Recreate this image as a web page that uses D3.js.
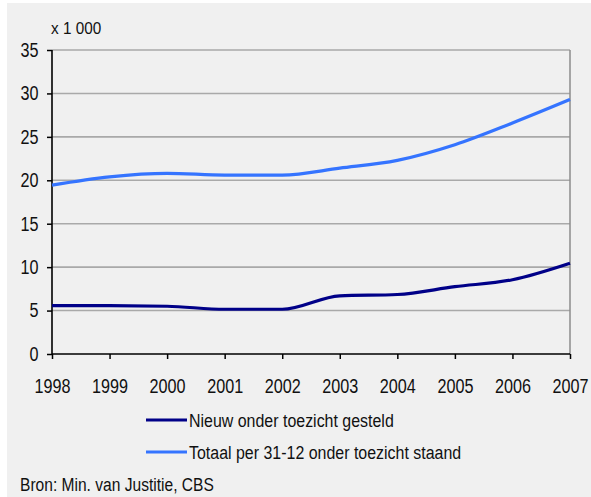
<!DOCTYPE html>
<html>
<head>
<meta charset="utf-8">
<script src="https://cdn.jsdelivr.net/npm/d3@7"></script>
<style>
  html, body { margin: 0; padding: 0; background: #ffffff; }
  svg { display: block; }
  text { font-family: "Liberation Sans", Arial, sans-serif; fill: #111; }
</style>
</head>
<body>
<svg id="chart" width="591" height="497"></svg>
<script>
const years = [1998, 1999, 2000, 2001, 2002, 2003, 2004, 2005, 2006, 2007];
const nieuw = [5.56, 5.56, 5.5, 5.15, 5.15, 6.7, 6.85, 7.75, 8.55, 10.45];
const totaal = [19.45, 20.4, 20.8, 20.6, 20.6, 21.4, 22.3, 24.1, 26.6, 29.3];
const yTicks = [0, 5, 10, 15, 20, 25, 30, 35];
const seriesNames = ["Nieuw onder toezicht gesteld", "Totaal per 31-12 onder toezicht staand"];
const seriesColors = ["#000088", "#3574ff"];
const unitLabel = "x 1 000";
const sourceText = "Bron: Min. van Justitie, CBS";

const SX = 0.81; // horizontal condensing of the narrow font

const svg = d3.select("#chart");
svg.append("rect").attr("x", 7).attr("y", 3).attr("width", 584).attr("height", 494).attr("fill", "#f0f0f0");

const x = d3.scaleLinear().domain([1998, 2007]).range([52, 570]);
const y = d3.scaleLinear().domain([0, 35]).range([354, 50]);

// gridlines
svg.append("g").selectAll("line").data(yTicks.filter(d => d > 0)).join("line")
  .attr("x1", x(1998)).attr("x2", x(2007))
  .attr("y1", d => y(d)).attr("y2", d => y(d))
  .attr("stroke", "#a9a9a9").attr("stroke-width", 1.6);

// right border
svg.append("line").attr("x1", x(2007)).attr("x2", x(2007)).attr("y1", y(35)).attr("y2", y(0))
  .attr("stroke", "#8c8c8c").attr("stroke-width", 1.5);

// y axis
const yAxis = svg.append("g").attr("transform", `translate(${x(1998)},0)`)
  .call(d3.axisLeft(y).tickValues(yTicks).tickSize(5).tickPadding(8).tickFormat(d3.format("d")));
yAxis.select(".domain").attr("stroke", "#000").attr("stroke-width", 1.6).attr("d", `M0,${y(35)}V${y(0)}`);
yAxis.selectAll(".tick line").attr("stroke", "#000").attr("stroke-width", 1.5);
yAxis.selectAll("text").attr("font-size", 20).attr("fill", "#111")
  .attr("x", -13.5 / SX).attr("transform", `scale(${SX},1)`);

// x axis
const xAxis = svg.append("g").attr("transform", `translate(0,${y(0)})`)
  .call(d3.axisBottom(x).tickValues(years).tickSize(5).tickPadding(10).tickFormat(d3.format("d")));
xAxis.select(".domain").attr("stroke", "#000").attr("stroke-width", 1.6).attr("d", `M${x(1998)},0H${x(2007)}`);
xAxis.selectAll(".tick line").attr("stroke", "#000").attr("stroke-width", 1.5);
xAxis.selectAll("text").attr("font-size", 20).attr("fill", "#111")
  .attr("y", 24.5).attr("dy", "0.71em").attr("transform", `scale(${SX},1)`);

// lines
const line = d3.line().x((d, i) => x(years[i])).y(d => y(d)).curve(d3.curveMonotoneX);
[nieuw, totaal].forEach((s, k) => {
  svg.append("path").datum(s).attr("d", line).attr("fill", "none")
    .attr("stroke", seriesColors[k]).attr("stroke-width", 3.2);
});

function condensedText(px, py, size, sx, str, dy) {
  svg.append("g").attr("transform", `translate(${px},${py}) scale(${sx},1)`)
    .append("text").attr("x", 0).attr("y", 0).attr("dy", dy || 0)
    .attr("font-size", size).text(str);
}

// unit label
condensedText(51, 34, 17, 0.9, unitLabel);

// legend
const legY = [420, 452];
seriesNames.forEach((n, k) => {
  svg.append("line").attr("x1", 146).attr("x2", 187).attr("y1", legY[k]).attr("y2", legY[k])
    .attr("stroke", seriesColors[k]).attr("stroke-width", 3.2);
  condensedText(189, legY[k], 19, 0.84, n, "0.35em");
});

// source
condensedText(20, 491, 19, 0.82, sourceText);
</script>
</body>
</html>
